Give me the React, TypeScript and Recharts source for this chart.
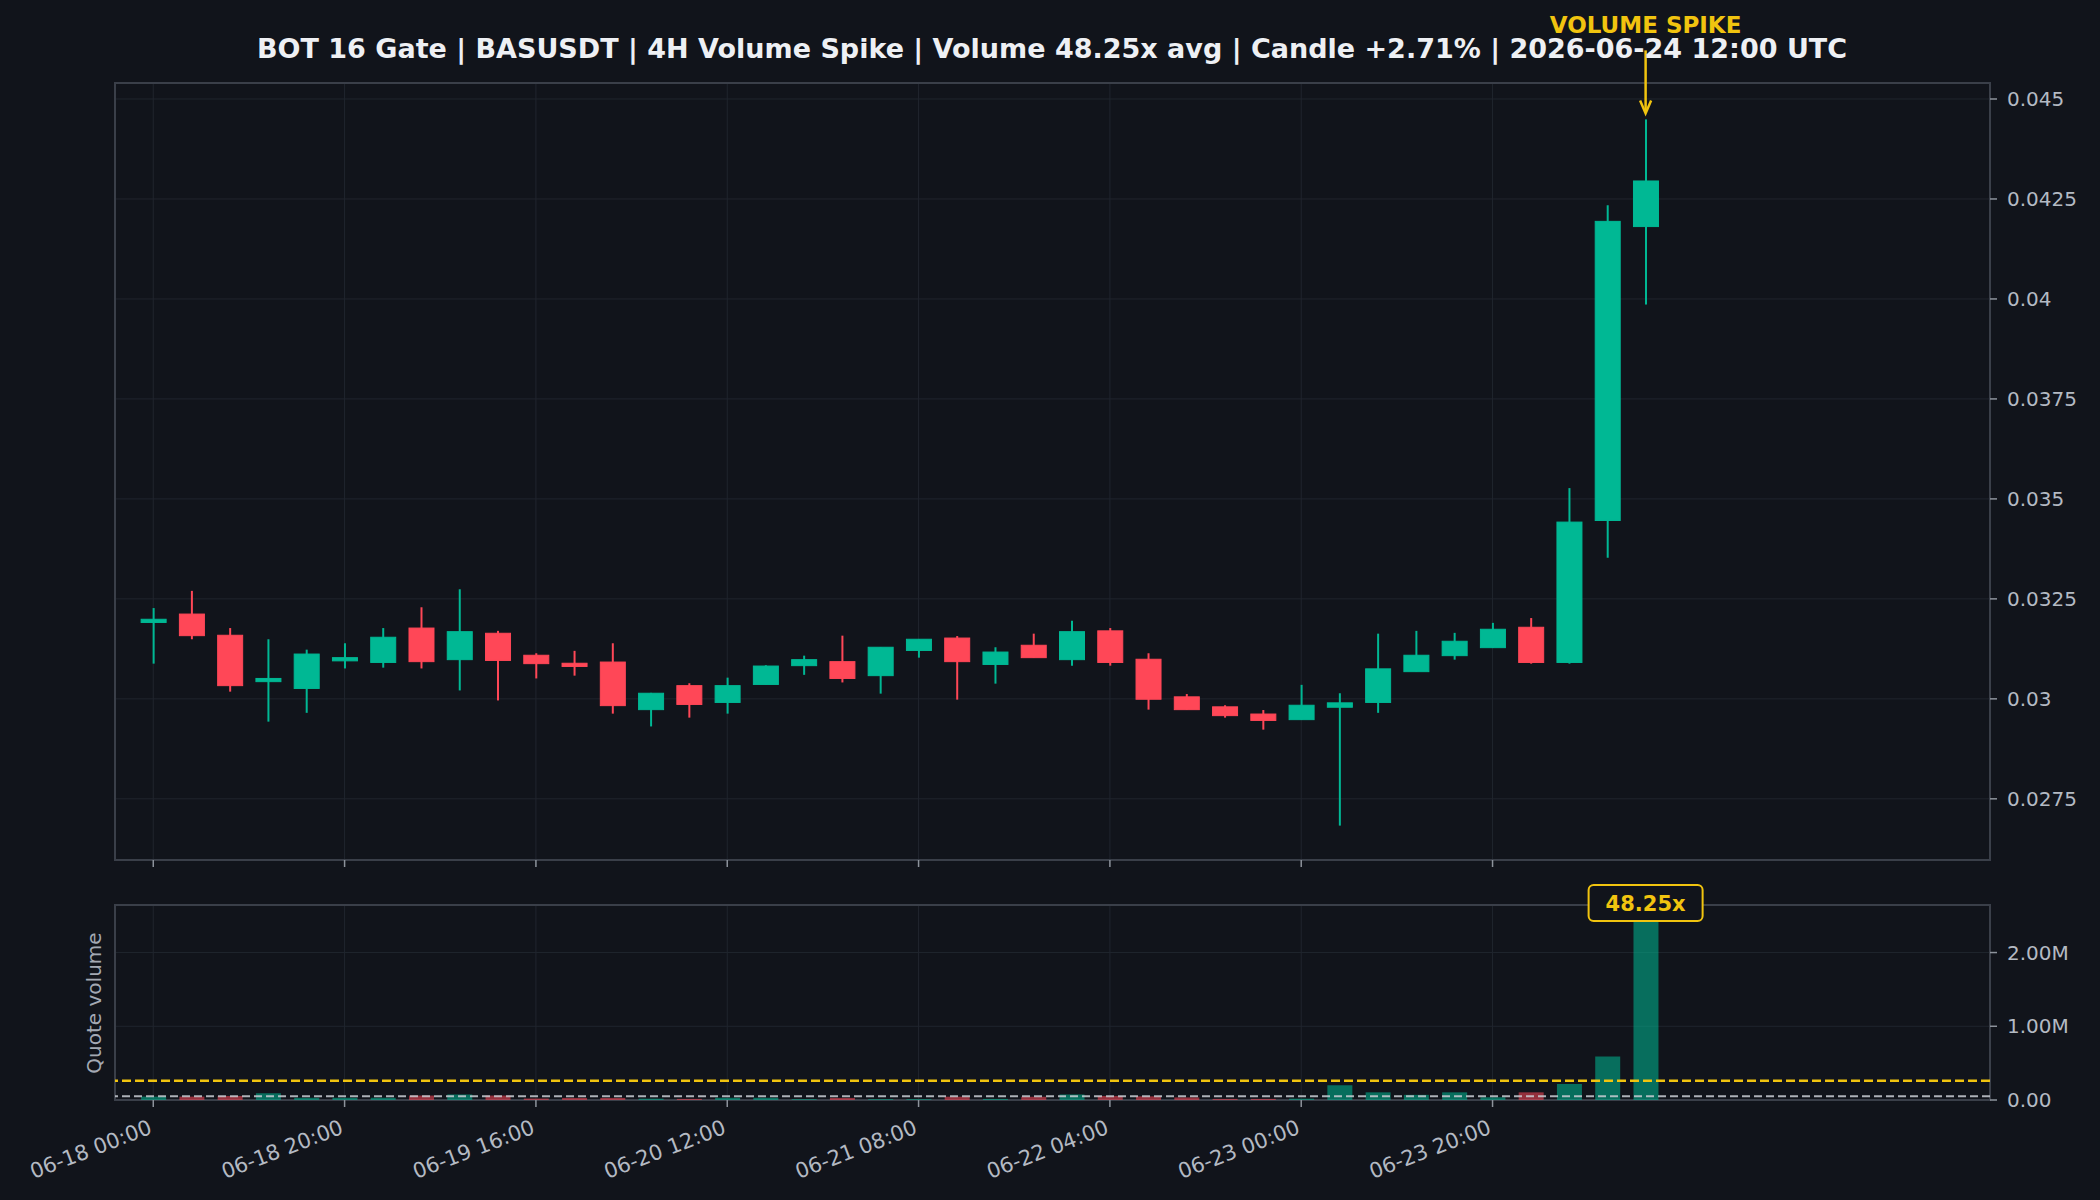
import React from 'react';
import {
  ComposedChart,
  Bar,
  XAxis,
  YAxis,
  CartesianGrid,
  ReferenceLine,
  ReferenceDot,
  ReferenceArea,
  Cell,
} from 'recharts';

// ---------- data ----------
const candleIndex = [
  0, 1, 2, 3, 4, 5, 6, 7, 8, 9, 10, 11, 12, 13, 14, 15, 16, 17, 18, 19,
  20, 21, 22, 23, 24, 25, 26, 27, 28, 29, 30, 31, 32, 33, 34, 35, 36, 37, 38, 39,
];
const opens = [
  0.03191, 0.03212, 0.03159, 0.03043, 0.03026, 0.03095, 0.03091, 0.03177, 0.03098, 0.03164,
  0.03109, 0.03089, 0.03092, 0.02973, 0.03033, 0.02991, 0.03036, 0.03083, 0.03093, 0.03058,
  0.03121, 0.03152, 0.03086, 0.03134, 0.03098, 0.0317, 0.03099, 0.03005, 0.0298, 0.02962,
  0.02948, 0.02979, 0.02991, 0.03068, 0.03108, 0.03128, 0.03179, 0.03091, 0.03446, 0.04181,
];
const highs = [
  0.03227, 0.0327, 0.03177, 0.03149, 0.03123, 0.03139, 0.03177, 0.03229, 0.03274, 0.0317,
  0.03114, 0.0312, 0.03139, 0.03015, 0.03039, 0.03053, 0.03084, 0.03108, 0.03158, 0.03129,
  0.03149, 0.03157, 0.03129, 0.03163, 0.03195, 0.03177, 0.03114, 0.03012, 0.02984, 0.02972,
  0.03035, 0.03014, 0.03163, 0.0317, 0.03165, 0.0319, 0.03202, 0.03527, 0.04234, 0.04449,
];
const lows = [
  0.03088, 0.03149, 0.03018, 0.02943, 0.02965, 0.03076, 0.03078, 0.03076, 0.03021, 0.02996,
  0.03051, 0.03058, 0.02963, 0.02931, 0.02953, 0.02963, 0.03036, 0.0306, 0.03041, 0.03013,
  0.03103, 0.02998, 0.03038, 0.03103, 0.03083, 0.03083, 0.02973, 0.02973, 0.02953, 0.02923,
  0.02948, 0.02683, 0.02965, 0.03068, 0.03098, 0.03128, 0.03088, 0.03088, 0.03353, 0.03986,
];
const closes = [
  0.03199, 0.03158, 0.03033, 0.03051, 0.03112, 0.03103, 0.03154, 0.03093, 0.03168, 0.03096,
  0.03088, 0.03081, 0.02983, 0.03014, 0.02986, 0.03033, 0.03082, 0.03098, 0.03051, 0.03129,
  0.03149, 0.03093, 0.03117, 0.03103, 0.03168, 0.03091, 0.02999, 0.02973, 0.02958, 0.02946,
  0.02984, 0.0299, 0.03075, 0.03109, 0.03144, 0.03174, 0.03091, 0.03442, 0.04194, 0.04295,
];
const quoteVolumes = [
  46000, 46000, 55000, 90000, 30000, 30000, 30000, 60000, 75000, 60000,
  20000, 28000, 28000, 18000, 15000, 30000, 30000, 12000, 28000, 12000,
  12000, 45000, 15000, 45000, 75000, 55000, 50000, 35000, 15000, 15000,
  18000, 200000, 104000, 70000, 104000, 37000, 104000, 217000, 590000, 2520000,
];
const xTickIdx = [0, 5, 10, 15, 20, 25, 30, 35];
const xTickLabels = [
  '06-18 00:00', '06-18 20:00', '06-19 16:00', '06-20 12:00',
  '06-21 08:00', '06-22 04:00', '06-23 00:00', '06-23 20:00',
];
const priceTicks = [0.0275, 0.03, 0.0325, 0.035, 0.0375, 0.04, 0.0425, 0.045];
const volumeTicks = [0, 1000000, 2000000];
const avgVolume = 52230;
const spikeThreshold = 261000;
const spikeIndex = 39;
const spikeLabel = '48.25x';
const titleText =
  'BOT 16 Gate | BASUSDT | 4H Volume Spike | Volume 48.25x avg | Candle +2.71% | 2026-06-24 12:00 UTC';

// axis ranges
const xDomain = [-1, 48];
const priceDomain = [0.02597, 0.0454];
const volumeDomain = [0, 2645000];

// ---------- styles ----------
const BG = '#11141b';
const GRID = '#20252e';
const SPINE = '#3a3f49';
const TICKLINE = '#8d939c';
const TICKTEXT = '#b4bac3';
const GREEN = '#00b894';
const RED = '#ff4757';
const YELLOW = '#f1c40f';
const FONT = '"DejaVu Sans", Verdana, sans-serif';

const priceData = candleIndex.map((i) => ({
  i,
  open: opens[i],
  high: highs[i],
  low: lows[i],
  close: closes[i],
  range: [lows[i], highs[i]],
}));

const volumeData = candleIndex.map((i) => ({
  i,
  vol: quoteVolumes[i],
  up: closes[i] >= opens[i],
}));

const Candle = (props: any) => {
  const { x, y, width, height, payload } = props;
  if (!payload || x == null) return null;
  const top = Math.min(y, y + height);
  const h = Math.abs(height);
  const span = payload.high - payload.low;
  const per = span > 0 ? h / span : 0;
  const up = payload.close >= payload.open;
  const color = up ? GREEN : RED;
  const bTop = top + (payload.high - Math.max(payload.open, payload.close)) * per;
  const bBot = top + (payload.high - Math.min(payload.open, payload.close)) * per;
  const bh = Math.max(bBot - bTop, 2);
  const cx = x + width / 2;
  return (
    <g>
      <line x1={cx} x2={cx} y1={top} y2={top + h} stroke={color} strokeWidth={2} />
      <rect x={x} y={bTop} width={width} height={bh} fill={color} stroke={color} strokeWidth={1} />
    </g>
  );
};

const NoTick = () => <g />;

const VolTick = (props: any) => {
  const { x, y, payload } = props;
  const k = xTickIdx.indexOf(payload.value);
  const label = k >= 0 ? xTickLabels[k] : '';
  const ty = y + 24;
  return (
    <text
      x={x}
      y={ty}
      textAnchor="end"
      fill={TICKTEXT}
      fontSize={21}
      transform={`rotate(-21 ${x} ${ty})`}
    >
      {label}
    </text>
  );
};

const SpikeArrow = (props: any) => {
  const { cx, cy } = props;
  if (cx == null || cy == null) return null;
  return (
    <g>
      <text x={cx} y={cy - 86} textAnchor="middle" fill={YELLOW} fontSize={23} fontWeight="bold">
        VOLUME SPIKE
      </text>
      <line x1={cx} x2={cx} y1={cy - 69} y2={cy - 7} stroke={YELLOW} strokeWidth={2.5} />
      <path
        d={`M${cx - 5.5},${cy - 19} L${cx},${cy - 6} L${cx + 5.5},${cy - 19}`}
        fill="none"
        stroke={YELLOW}
        strokeWidth={2.5}
      />
    </g>
  );
};

const SpikeBox = (props: any) => {
  const { cx, cy } = props;
  if (cx == null || cy == null) return null;
  return (
    <g>
      <rect x={cx - 57} y={cy - 20} width={114} height={36} rx={5} ry={5} fill={BG} stroke={YELLOW} strokeWidth={2} />
      <text x={cx} y={cy + 6} textAnchor="middle" fill={YELLOW} fontSize={21} fontWeight="bold">
        {spikeLabel}
      </text>
    </g>
  );
};

const fmtPrice = (v: number) => String(parseFloat(v.toFixed(4)));
const fmtVol = (v: number) => (v === 0 ? '0.00' : (v / 1000000).toFixed(2) + 'M');

export default function App() {
  return (
    <div
      style={{
        position: 'absolute',
        left: 0,
        top: 0,
        width: 2100,
        height: 1200,
        background: BG,
        fontFamily: FONT,
        overflow: 'hidden',
      }}
    >
      <div style={{ position: 'absolute', left: 0, top: 0 }}>
        <ComposedChart
          width={2100}
          height={880}
          data={priceData}
          margin={{ top: 83, right: 0, left: 115, bottom: 0 }}
        >
          <CartesianGrid stroke={GRID} strokeWidth={1} />
          <XAxis
            dataKey="i"
            type="number"
            domain={xDomain}
            ticks={xTickIdx}
            allowDataOverflow
            height={20}
            axisLine={false}
            tickLine={{ stroke: TICKLINE, strokeWidth: 1.5 }}
            tickSize={7}
            tick={NoTick}
            interval={0}
          />
          <YAxis
            orientation="right"
            type="number"
            domain={priceDomain}
            ticks={priceTicks}
            allowDataOverflow
            width={110}
            axisLine={false}
            tickLine={{ stroke: TICKLINE, strokeWidth: 1.5 }}
            tickSize={7}
            tickMargin={10}
            tick={{ fill: TICKTEXT, fontSize: 20 }}
            tickFormatter={fmtPrice}
            interval={0}
          />
          <Bar dataKey="range" barSize={25} shape={<Candle />} isAnimationActive={false} />
          <ReferenceArea
            x1={xDomain[0]}
            x2={xDomain[1]}
            y1={priceDomain[0]}
            y2={priceDomain[1]}
            fill="none"
            fillOpacity={0}
            stroke={SPINE}
            strokeWidth={2}
            ifOverflow="visible"
          />
          <ReferenceDot
            x={spikeIndex}
            y={highs[spikeIndex]}
            r={0}
            ifOverflow="visible"
            shape={<SpikeArrow />}
          />
        </ComposedChart>
      </div>

      <div style={{ position: 'absolute', left: 0, top: 880 }}>
        <ComposedChart
          width={2100}
          height={320}
          data={volumeData}
          margin={{ top: 25, right: 0, left: 115, bottom: 0 }}
        >
          <CartesianGrid stroke={GRID} strokeWidth={1} />
          <XAxis
            dataKey="i"
            type="number"
            domain={xDomain}
            ticks={xTickIdx}
            allowDataOverflow
            height={100}
            axisLine={false}
            tickLine={{ stroke: TICKLINE, strokeWidth: 1.5 }}
            tickSize={7}
            tickMargin={2}
            tick={<VolTick />}
            interval={0}
          />
          <YAxis
            orientation="right"
            type="number"
            domain={volumeDomain}
            ticks={volumeTicks}
            allowDataOverflow
            width={110}
            axisLine={false}
            tickLine={{ stroke: TICKLINE, strokeWidth: 1.5 }}
            tickSize={7}
            tickMargin={10}
            tick={{ fill: TICKTEXT, fontSize: 20 }}
            tickFormatter={fmtVol}
            interval={0}
          />
          <Bar dataKey="vol" barSize={25} isAnimationActive={false}>
            {volumeData.map((d) => (
              <Cell key={d.i} fill={d.up ? GREEN : RED} fillOpacity={0.55} />
            ))}
          </Bar>
          <ReferenceLine y={spikeThreshold} stroke={YELLOW} strokeWidth={2.5} strokeDasharray="9 4" />
          <ReferenceLine y={avgVolume} stroke="#c9cdd4" strokeOpacity={0.85} strokeWidth={2} strokeDasharray="8 4" />
          <ReferenceArea
            x1={xDomain[0]}
            x2={xDomain[1]}
            y1={volumeDomain[0]}
            y2={volumeDomain[1]}
            fill="none"
            fillOpacity={0}
            stroke={SPINE}
            strokeWidth={2}
            ifOverflow="visible"
          />
          <ReferenceDot
            x={spikeIndex}
            y={volumeDomain[1]}
            r={0}
            ifOverflow="visible"
            shape={<SpikeBox />}
          />
        </ComposedChart>
      </div>

      <svg
        width={2100}
        height={1200}
        style={{ position: 'absolute', left: 0, top: 0, pointerEvents: 'none' }}
      >
        <text x={1052} y={58} textAnchor="middle" fill="#eef0f4" fontSize={27} fontWeight="bold">
          {titleText}
        </text>
        <text
          x={101}
          y={1003}
          textAnchor="middle"
          fill="#a3a9b3"
          fontSize={20}
          transform="rotate(-90 101 1003)"
        >
          Quote volume
        </text>
      </svg>
    </div>
  );
}
